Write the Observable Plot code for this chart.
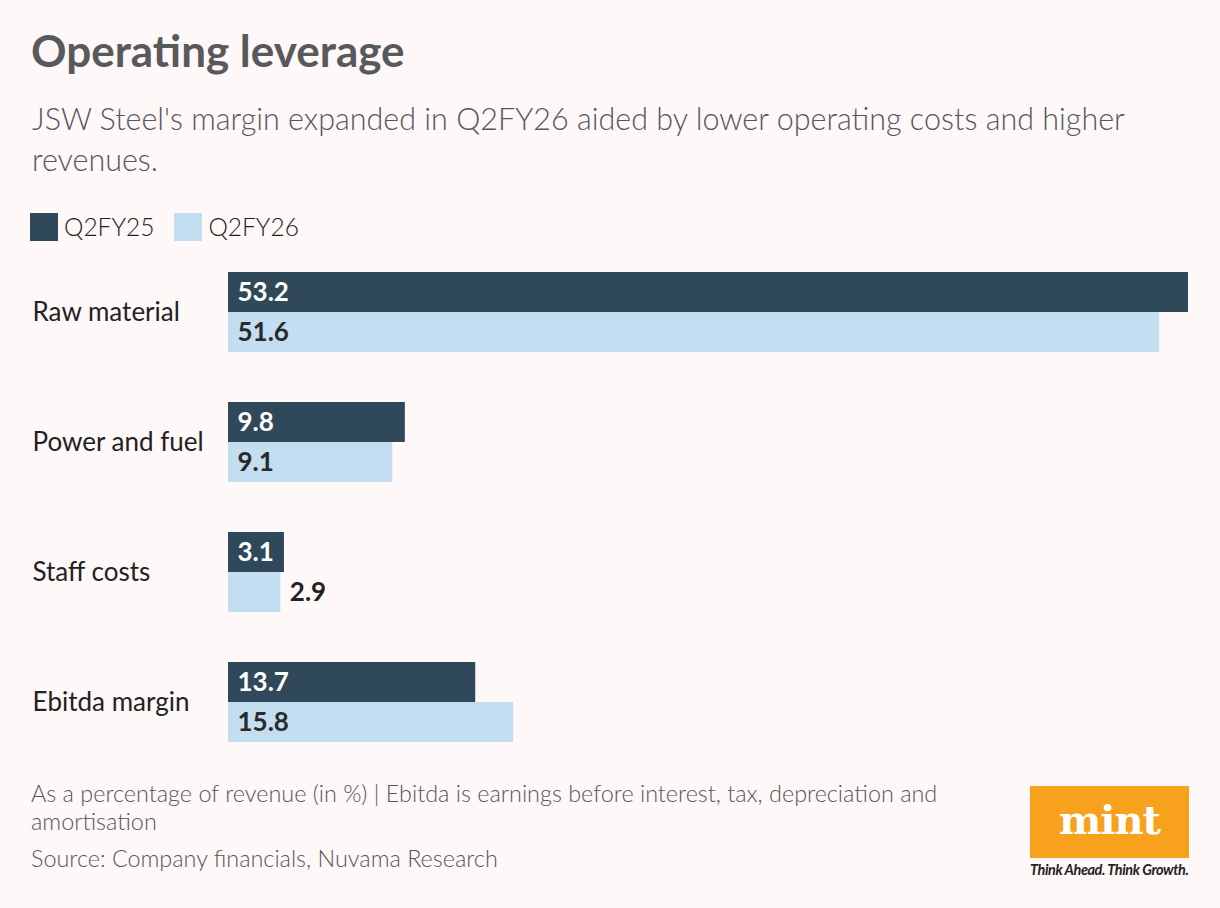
<!DOCTYPE html>
<html>
<head>
<meta charset="utf-8">
<script src="https://cdn.jsdelivr.net/npm/d3@7"></script>
<script src="https://cdn.jsdelivr.net/npm/@observablehq/plot@0.6"></script>
<style>
  html, body { margin: 0; padding: 0; background: #fff8f8; }
  body { width: 1220px; height: 908px; position: relative; font-family: Lato, "Noto Sans", sans-serif; color: #222; overflow: hidden; }
  #title { position: absolute; left: 31px; top: 24px; font-size: 44px; font-weight: 700; color: #58595b; }
  #subtitle { position: absolute; left: 32px; top: 98px; width: 1150px; font-size: 30.5px; font-weight: 300; color: #555759; line-height: 41px; }
  #legend { position: absolute; left: 30px; top: 212px; display: flex; align-items: center; font-size: 24.5px; font-weight: 300; color: #222; }
  #legend .sw { width: 28px; height: 28px; display: inline-block; margin-right: 6px; }
  #legend .item { display: flex; align-items: center; margin-right: 20px; }
  #chart { position: absolute; left: 0; top: 262px; }
  #note { position: absolute; left: 31px; top: 779px; width: 1000px; font-size: 23.4px; font-weight: 300; color: #555759; line-height: 28px; }
  #source { position: absolute; left: 31px; top: 844px; font-size: 23.4px; font-weight: 300; color: #555759; }
  #logo { position: absolute; left: 1030px; top: 786px; width: 159px; height: 72px; background: #f8a11d; color: #fff; font-family: "DejaVu Serif", serif; font-weight: 700; font-size: 40px; text-align: center; line-height: 68px; letter-spacing: -1px; }
  #tag { position: absolute; left: 1030px; top: 861px; width: 170px; font-size: 14.4px; font-style: italic; font-weight: 700; color: #222; letter-spacing: -0.4px; }
</style>
</head>
<body>
<div id="title">Operating leverage</div>
<div id="subtitle">JSW Steel's margin expanded in Q2FY26 aided by lower operating costs and higher revenues.</div>
<div id="legend"></div>
<div id="chart"></div>
<div id="note">As a percentage of revenue (in %) | Ebitda is earnings before interest, tax, depreciation and<br>amortisation</div>
<div id="source">Source: Company financials, Nuvama Research</div>
<div id="logo">mint</div>
<div id="tag">Think Ahead. Think Growth.</div>
<script>
const categories = ["Raw material", "Power and fuel", "Staff costs", "Ebitda margin"];
const seriesNames = ["Q2FY25", "Q2FY26"];
const q2fy25 = [53.2, 9.8, 3.1, 13.7];
const q2fy26 = [51.6, 9.1, 2.9, 15.8];
const seriesColors = ["#30495a", "#c2def0"];
const labelColors = ["#ffffff", "#2a2a2a"];

const rows = [];
categories.forEach((c, i) => {
  rows.push({category: c, series: seriesNames[0], value: q2fy25[i]});
  rows.push({category: c, series: seriesNames[1], value: q2fy26[i]});
});
const inside = rows.filter(d => d.value >= 3);
const outside = rows.filter(d => d.value < 3);

// legend
const legend = document.getElementById("legend");
seriesNames.forEach((s, i) => {
  const it = document.createElement("div");
  it.className = "item";
  it.innerHTML = `<span class="sw" style="background:${seriesColors[i]}"></span><span>${s}</span>`;
  legend.appendChild(it);
});

const chart = Plot.plot({
  width: 1220,
  height: 490,
  marginLeft: 228,
  marginRight: 32,
  marginTop: 10,
  marginBottom: 10,
  style: {background: "transparent", fontFamily: "Lato, 'Noto Sans', sans-serif"},
  x: {domain: [0, 53.2], axis: null},
  y: {domain: seriesNames, padding: 0, axis: null},
  fy: {domain: categories, padding: 50 / 130, axis: null},
  color: {domain: seriesNames, range: seriesColors},
  marks: [
    Plot.barX(rows, {x: "value", y: "series", fy: "category", fill: "series"}),
    Plot.text(inside, {
      x: 0, y: "series", fy: "category", text: d => d.value.toFixed(1),
      textAnchor: "start", dx: 9, fontSize: 26, fontWeight: 700,
      fill: d => labelColors[seriesNames.indexOf(d.series)]
    }),
    Plot.text(outside, {
      x: "value", y: "series", fy: "category", text: d => d.value.toFixed(1),
      textAnchor: "start", dx: 9, fontSize: 26, fontWeight: 700, fill: "#222"
    }),
    Plot.text(categories, {
      fy: d => d, text: d => d, frameAnchor: "left", textAnchor: "start",
      dx: -196, fontSize: 26, fontWeight: 400, fill: "#222"
    })
  ]
});
document.getElementById("chart").appendChild(chart);
</script>
</body>
</html>
